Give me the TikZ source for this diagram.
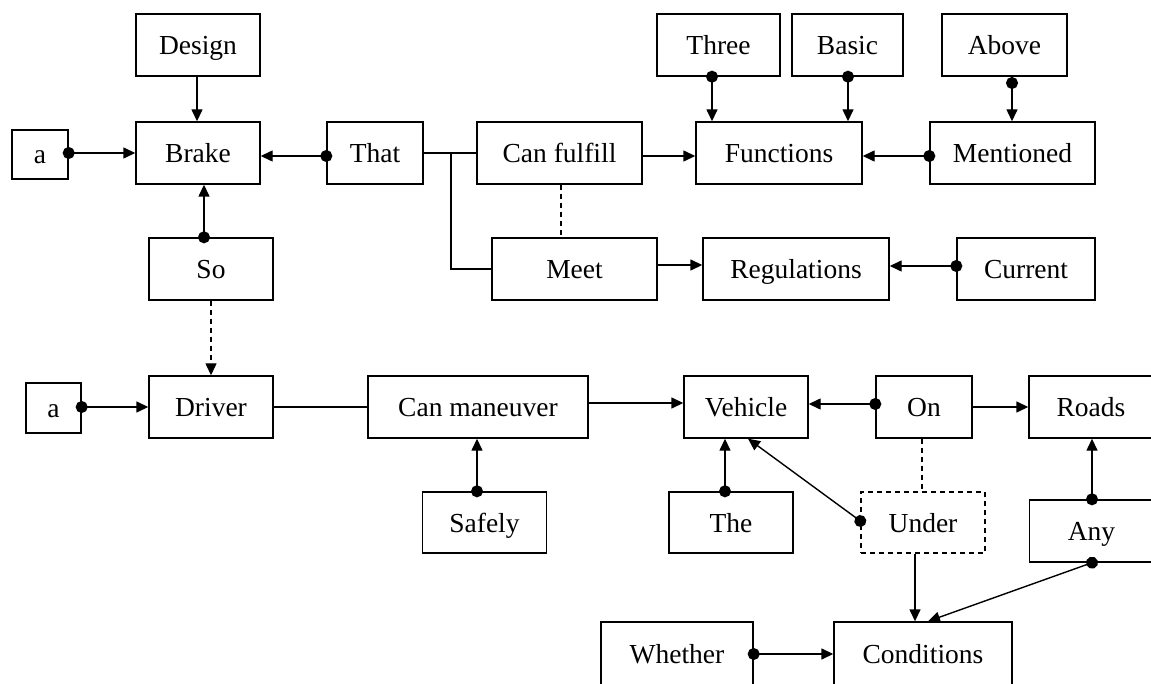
\documentclass[tikz,border=0pt]{standalone}
\usepackage{fontspec}
\setmainfont{Liberation Serif}
\usetikzlibrary{arrows.meta}
\begin{document}
\begin{tikzpicture}[x=1pt,y=-1pt,
  box/.style={draw, line width=1.4pt, inner sep=0pt, align=center,
    text height=19pt, text depth=0pt,
    font=\fontsize{27.5}{30}\selectfont},
  dashbox/.style={box, dash pattern=on 5pt off 4pt},
  link/.style={line width=1.4pt},
  arr/.style={link, -{Triangle[length=12pt,width=11pt]}},
  dotarr/.style={link, {Circle[length=12pt]}-{Triangle[length=12pt,width=11pt]}, shorten <=-6pt},
  dashlink/.style={link, dash pattern=on 5pt off 4pt},
  dasharr/.style={arr, dash pattern=on 5pt off 4pt}]
\useasboundingbox (0,0) rectangle (1151,684);
\begin{scope}
\clip (0,0) rectangle (1151,684);
% upper part: the brake
\node[box, minimum width=124pt, minimum height=62pt] (design) at (198,45) {Design};
\node[box, minimum width=124pt, minimum height=62pt] (brake) at (198,153) {Brake};
\node[box, minimum width=56pt, minimum height=49pt] (a1) at (40,154.5) {a};
\node[box, minimum width=96pt, minimum height=62pt] (that) at (375,153) {That};
\node[box, minimum width=165pt, minimum height=62pt] (canful) at (559.5,153) {Can fulfill};
\node[box, minimum width=166pt, minimum height=62pt] (functions) at (779,153) {Functions};
\node[box, minimum width=165pt, minimum height=62pt] (mentioned) at (1012.5,153) {Mentioned};
\node[box, minimum width=123pt, minimum height=62pt] (three) at (718.5,45) {Three};
\node[box, minimum width=111pt, minimum height=62pt] (basic) at (847.5,45) {Basic};
\node[box, minimum width=125pt, minimum height=62pt] (above) at (1004.5,45) {Above};
\node[box, minimum width=124pt, minimum height=62pt] (so) at (211,269) {So};
\node[box, minimum width=165pt, minimum height=62pt] (meet) at (574.5,269) {Meet};
\node[box, minimum width=186pt, minimum height=62pt] (regulations) at (796,269) {Regulations};
\node[box, minimum width=138pt, minimum height=62pt] (current) at (1026,269) {Current};
% lower part: the driver
\node[box, minimum width=55pt, minimum height=50pt] (a2) at (53.5,408) {a};
\node[box, minimum width=124pt, minimum height=62pt] (driver) at (211,407) {Driver};
\node[box, minimum width=220pt, minimum height=62pt] (canman) at (478,407) {Can maneuver};
\node[box, minimum width=124pt, minimum height=62pt] (vehicle) at (746,407) {Vehicle};
\node[box, minimum width=96pt, minimum height=62pt] (on) at (924,407) {On};
\node[box, minimum width=124pt, minimum height=62pt] (roads) at (1091,407) {Roads};
\node[box, minimum width=124pt, minimum height=61pt] (safely) at (484.5,522.5) {Safely};
\node[box, minimum width=124pt, minimum height=61pt] (the) at (731,522.5) {The};
\node[dashbox, minimum width=124pt, minimum height=61pt] (under) at (923,522.5) {Under};
\node[box, minimum width=124pt, minimum height=62pt] (any) at (1091.5,531) {Any};
\node[box, minimum width=152pt, minimum height=64pt] (whether) at (677,654) {Whether};
\node[box, minimum width=178pt, minimum height=64pt] (conditions) at (923,654) {Conditions};
\end{scope}

% connectors of the upper part
\draw[dotarr] (a1.east |- brake) -- (brake.west);
\draw[arr] ([xshift=-1pt]design.south) -- ([xshift=-1pt]brake.north);
\draw[dotarr] ([yshift=-3pt]that.west) -- ([yshift=-3pt]brake.east);
\draw[dotarr] ([xshift=-7pt]so.north) -- ([xshift=-7pt]so.north |- brake.south);
\coordinate (jn) at (451,153);
\draw[link] (that.east) -- (canful.west);
\draw[link] (jn) |- (meet.west);
\draw[dashlink] ([xshift=1.5pt]canful.south) -- ([xshift=1.5pt]canful.south |- meet.north);
\draw[arr] ([yshift=-3pt]canful.east) -- ([yshift=-3pt]functions.west);
\draw[dotarr] ([xshift=-6.5pt]three.south) -- ([xshift=-6.5pt]three.south |- functions.north);
\draw[dotarr] ([xshift=0.5pt]basic.south) -- ([xshift=0.5pt]basic.south |- functions.north);
\coordinate (abovedot) at (1012,83);
\draw[dotarr] (abovedot) -- (abovedot |- mentioned.north);
\draw[dotarr] ([yshift=-3pt]mentioned.west) -- ([yshift=-3pt]functions.east);
\draw[arr] ([yshift=4pt]meet.east) -- ([yshift=4pt]meet.east -| regulations.west);
\draw[dotarr] ([yshift=3pt]current.west) -- ([yshift=3pt]regulations.east);

% connectors of the lower part
\draw[dasharr] (so.south) -- (driver.north);
\draw[dotarr] (a2.east |- driver) -- (driver.west);
\draw[link] (driver.east) -- (canman.west);
\draw[arr] ([yshift=4pt]canman.east) -- ([yshift=4pt]vehicle.west);
\draw[dotarr] ([xshift=-7.5pt]safely.north) -- ([xshift=-7.5pt]safely.north |- canman.south);
\draw[dotarr] ([yshift=3pt]on.west) -- ([yshift=3pt]vehicle.east);
\draw[arr] (on.east) -- (roads.west);
\draw[dashlink] ([xshift=-2pt]on.south) -- ([xshift=-2pt]on.south |- under.north);
\draw[dotarr] ([xshift=-6pt]the.north) -- ([xshift=-6pt]the.north |- vehicle.south);
\draw[dotarr] ([yshift=1.5pt]under.west) -- ([xshift=2pt]vehicle.south);
\draw[dotarr] ([xshift=0.5pt]any.north) -- ([xshift=0.5pt]any.north |- roads.south);
\draw[arr] ([xshift=-8pt]under.south) -- ([xshift=-8pt]under.south |- conditions.north);
\draw[dotarr] ([xshift=0.5pt]any.south) -- ([xshift=5pt]conditions.north);
\draw[dotarr] (whether.east) -- (conditions.west);
\end{tikzpicture}
\end{document}
